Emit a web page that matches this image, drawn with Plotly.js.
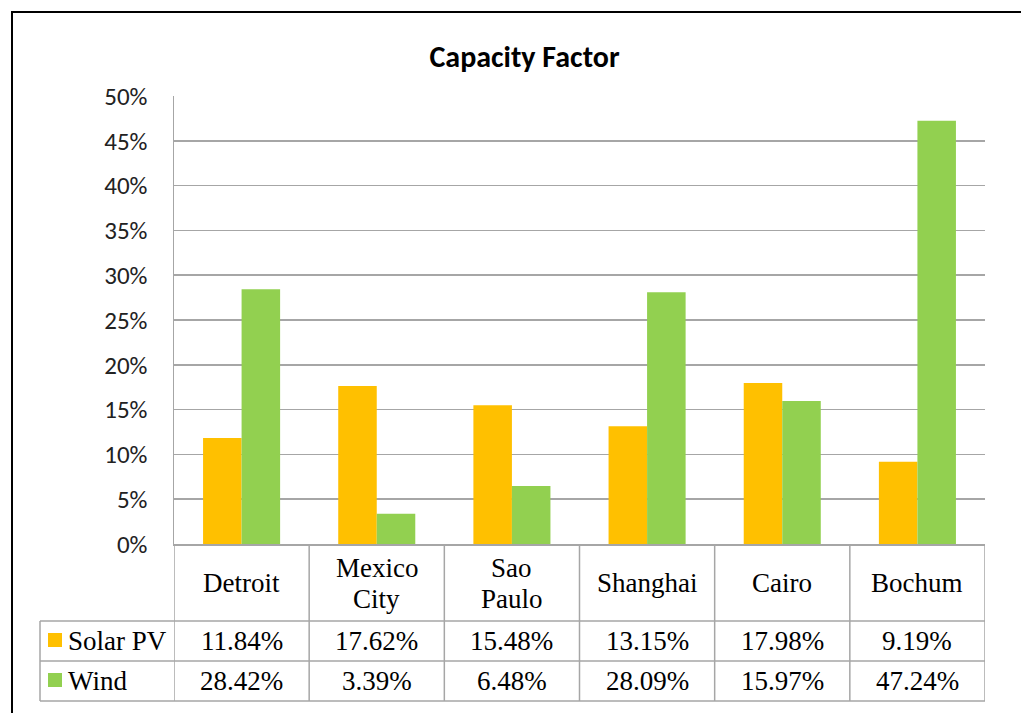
<!DOCTYPE html>
<html>
<head>
<meta charset="utf-8">
<script src="https://cdn.plot.ly/plotly-3.0.1.min.js"></script>
<style>
  html, body { margin: 0; padding: 0; background: #fff; }
  #chart { width: 1021px; height: 713px; }
</style>
</head>
<body>
<div id="chart"></div>
<script>
// ---- data ----
const categories = ['Detroit', 'Mexico City', 'Sao Paulo', 'Shanghai', 'Cairo', 'Bochum'];
const categoryLabels = ['Detroit', 'Mexico<br>City', 'Sao<br>Paulo', 'Shanghai', 'Cairo', 'Bochum'];
const solarPV = [11.84, 17.62, 15.48, 13.15, 17.98, 9.19];
const wind = [28.42, 3.39, 6.48, 28.09, 15.97, 47.24];
const seriesNames = ['Solar PV', 'Wind'];
const yTickVals = [0, 5, 10, 15, 20, 25, 30, 35, 40, 45, 50];

// ---- style ----
const solarColor = '#FFC000';
const windColor = '#92D050';
const gridColor = '#a6a6a6';
const axisFont = "'Liberation Sans Narrow', Carlito, 'Liberation Sans', sans-serif";
const tableFont = "'Liberation Serif', 'Times New Roman', serif";

// plot area pixel geometry
const W = 1021, H = 713;
const L = 174, R = 985, T = 96, B = 544;
const pw = R - L, ph = B - T;
const px2x = p => (p - L) / pw;
const py2y = p => (B - p) / ph;

const rowTop1 = py2y(621), rowTop2 = py2y(661), rowBot = py2y(701);
const legendLeft = px2x(40);

const traces = [
  { type: 'bar', name: seriesNames[0], x: categories, y: solarPV,
    marker: { color: solarColor }, hoverinfo: 'x+y' },
  { type: 'bar', name: seriesNames[1], x: categories, y: wind,
    marker: { color: windColor }, hoverinfo: 'x+y' }
];

const shapes = [];
const lineStyle = { color: gridColor, width: 1.5 };
// horizontal table lines
[rowTop1, rowTop2, rowBot].forEach(yv => {
  shapes.push({ type: 'line', xref: 'paper', yref: 'paper', x0: legendLeft, x1: 1, y0: yv, y1: yv, line: lineStyle });
});
// vertical column lines
for (let i = 0; i <= categories.length; i++) {
  shapes.push({ type: 'line', xref: 'x', yref: 'paper', x0: i - 0.5, x1: i - 0.5, y0: 0, y1: rowBot, line: lineStyle });
}
// left border of legend column
shapes.push({ type: 'line', xref: 'paper', yref: 'paper', x0: legendLeft, x1: legendLeft, y0: rowTop1, y1: rowBot, line: lineStyle });
// legend keys
const keyX0 = px2x(48), keyX1 = px2x(62);
shapes.push({ type: 'rect', xref: 'paper', yref: 'paper', x0: keyX0, x1: keyX1, y0: py2y(647), y1: py2y(633), fillcolor: solarColor, line: { width: 0 } });
shapes.push({ type: 'rect', xref: 'paper', yref: 'paper', x0: keyX0, x1: keyX1, y0: py2y(687), y1: py2y(673), fillcolor: windColor, line: { width: 0 } });
// outer chart border
shapes.push({ type: 'rect', xref: 'paper', yref: 'paper', x0: px2x(12), x1: px2x(1060), y0: py2y(12), y1: py2y(760), line: { color: '#000', width: 2 } });

const annotations = [];
const tf = { family: tableFont, size: 27, color: '#000' };
const hdrCenter = 583, lineGap = 31;
const solY = py2y(641), windY = py2y(681);
categoryLabels.forEach((lab, i) => {
  const lines = lab.split('<br>');
  lines.forEach((ln, k) => {
    const cy = hdrCenter + (k - (lines.length - 1) / 2) * lineGap;
    annotations.push({ xref: 'x', yref: 'paper', x: i, y: py2y(cy), text: ln, showarrow: false, font: tf, xanchor: 'center', yanchor: 'middle' });
  });
  annotations.push({ xref: 'x', yref: 'paper', x: i, y: solY, text: solarPV[i].toFixed(2) + '%', showarrow: false, font: tf, xanchor: 'center', yanchor: 'middle' });
  annotations.push({ xref: 'x', yref: 'paper', x: i, y: windY, text: wind[i].toFixed(2) + '%', showarrow: false, font: tf, xanchor: 'center', yanchor: 'middle' });
});
annotations.push({ xref: 'paper', yref: 'paper', x: px2x(66), y: solY, text: seriesNames[0], showarrow: false, font: tf, xanchor: 'left', yanchor: 'middle' });
annotations.push({ xref: 'paper', yref: 'paper', x: px2x(66), y: windY, text: seriesNames[1], showarrow: false, font: tf, xanchor: 'left', yanchor: 'middle' });

const layout = {
  width: W, height: H,
  margin: { l: L, r: W - R, t: T, b: H - B, pad: 0 },
  paper_bgcolor: '#fff', plot_bgcolor: '#fff',
  showlegend: false,
  barmode: 'group', bargap: 0.43, bargroupgap: 0,
  title: { text: '<b>Capacity Factor</b>', x: 524.5 / W, xanchor: 'center', y: 1 - 56 / H, yanchor: 'middle',
           font: { family: axisFont, size: 30, color: '#000' } },
  xaxis: { type: 'category', range: [-0.5, 5.5], showticklabels: false, ticks: '', showgrid: false,
           showline: true, linecolor: gridColor, linewidth: 1.5, zeroline: false, fixedrange: true },
  yaxis: { range: [0, 50], tickvals: yTickVals, ticktext: yTickVals.map(v => v + '%'),
           showgrid: true, gridcolor: gridColor, gridwidth: 1.5,
           showline: true, linecolor: gridColor, linewidth: 1.5, zeroline: false,
           ticks: 'outside', ticklen: 20, tickcolor: 'rgba(0,0,0,0)',
           tickfont: { family: axisFont, size: 25, color: '#222' }, fixedrange: true },
  shapes: shapes,
  annotations: annotations
};

Plotly.newPlot('chart', traces, layout, { displayModeBar: false, staticPlot: true });
</script>
</body>
</html>
